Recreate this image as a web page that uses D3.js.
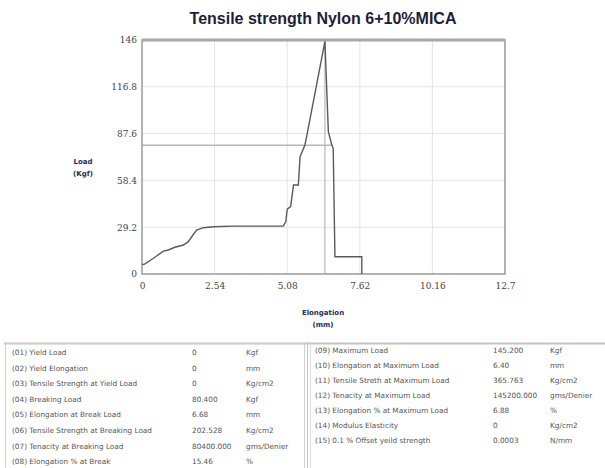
<!DOCTYPE html>
<html><head><meta charset="utf-8">
<script src="https://cdn.jsdelivr.net/npm/d3@7"></script>
<style>body{margin:0;background:#fff}svg{display:block}</style>
</head><body>
<script>
const title = "Tensile strength Nylon 6+10%MICA";
const elongation = [0, 0.08, 0.40, 0.75, 0.92, 1.15, 1.45, 1.62, 1.80, 1.91, 2.15, 2.50, 3.19, 4.94, 5.03, 5.08, 5.20, 5.30, 5.47, 5.53, 5.70, 5.77, 6.40, 6.52, 6.64, 6.69, 6.75, 7.69, 7.69];
const load =       [6.0, 6.0, 9.8, 14.3, 15.0, 16.7, 18.1, 20.2, 24.8, 27.4, 28.9, 29.5, 29.9, 29.9, 32.6, 40.5, 42.0, 55.5, 55.5, 73.2, 80.5, 86.7, 145.2, 88.8, 80.5, 78.4, 10.8, 10.8, 0];
const yTicks = [0, 29.2, 58.4, 87.6, 116.8, 146];
const yTickLabels = ["0", "29.2", "58.4", "87.6", "116.8", "146"];
const xTicks = [0, 2.54, 5.08, 7.62, 10.16, 12.7];
const xTickLabels = ["0", "2.54", "5.08", "7.62", "10.16", "12.7"];
const breakingLoad = 80.4, breakElong = 6.68, maxElong = 6.40;
const leftLabels = ["(01) Yield Load","(02) Yield Elongation","(03) Tensile Strength at Yield Load","(04) Breaking Load","(05) Elongation at Break Load","(06) Tensile Strength at Breaking Load","(07) Tenacity at Breaking Load","(08) Elongation % at Break"];
const leftValues = ["0","0","0","80.400","6.68","202.528","80400.000","15.46"];
const leftUnits = ["Kgf","mm","Kg/cm2","Kgf","mm","Kg/cm2","gms/Denier","%"];
const rightLabels = ["(09) Maximum Load","(10) Elongation at Maximum Load","(11) Tensile Streth at Maximum Load","(12) Tenacity at Maximum Load","(13) Elongation % at Maximum Load","(14) Modulus Elasticity","(15) 0.1 % Offset yeild strength"];
const rightValues = ["145.200","6.40","365.763","145200.000","6.88","0","0.0003"];
const rightUnits = ["Kgf","mm","Kg/cm2","gms/Denier","%","Kg/cm2","N/mm"];

const W = 605, H = 468;
const svg = d3.select("body").append("svg").attr("width", W).attr("height", H);
const x = d3.scaleLinear().domain([0, 12.7]).range([142, 505]);
const y = d3.scaleLinear().domain([0, 146]).range([274, 40]);

svg.append("text").attr("x", 323).attr("y", 24).attr("text-anchor", "middle")
  .attr("font-family", "Liberation Sans, Arial, sans-serif").attr("font-weight", "bold")
  .attr("font-size", 16).attr("fill", "#1e1e38").text(title);

// grid
const g = svg.append("g");
g.selectAll(".vg").data(xTicks.slice(1, -1)).join("line")
  .attr("x1", d => x(d)).attr("x2", d => x(d)).attr("y1", y(146)).attr("y2", y(0))
  .attr("stroke", "#e4e4e4").attr("stroke-width", 1);
g.selectAll(".hg").data(yTicks.slice(1, -1)).join("line")
  .attr("x1", x(0)).attr("x2", x(12.7)).attr("y1", d => y(d)).attr("y2", d => y(d))
  .attr("stroke", "#e4e4e4").attr("stroke-width", 1);

// reference lines
g.append("line").attr("x1", x(0)).attr("x2", x(breakElong)).attr("y1", y(breakingLoad)).attr("y2", y(breakingLoad))
  .attr("stroke", "#b8b8b8").attr("stroke-width", 1.5);
g.append("line").attr("x1", x(maxElong)).attr("x2", x(maxElong)).attr("y1", y(146)).attr("y2", y(0))
  .attr("stroke", "#b8b8b8").attr("stroke-width", 1.2);

// border
g.append("rect").attr("x", x(0)).attr("y", y(146)).attr("width", x(12.7) - x(0)).attr("height", y(0) - y(146))
  .attr("fill", "none").attr("stroke", "#9a9a9a").attr("stroke-width", 1.5);
g.append("line").attr("x1", x(0)).attr("x2", x(12.7)).attr("y1", y(146)).attr("y2", y(146))
  .attr("stroke", "#a8a8a8").attr("stroke-width", 3);

// curve
const line = d3.line().x((d, i) => x(elongation[i])).y((d, i) => y(load[i]));
g.append("path").attr("d", line(load)).attr("fill", "none").attr("stroke", "#5a5a5a").attr("stroke-width", 1.4);

// axes
const yAxis = d3.axisLeft(y).tickValues(yTicks).tickFormat((d, i) => yTickLabels[i]).tickSize(0).tickPadding(5);
const ya = svg.append("g").attr("transform", `translate(${x(0)},0)`).call(yAxis);
ya.select(".domain").remove();
ya.selectAll("text").attr("font-family", "DejaVu Serif, serif").attr("font-size", 9).attr("fill", "#444");

const xAxis = d3.axisBottom(x).tickValues(xTicks).tickFormat((d, i) => xTickLabels[i]).tickSize(0).tickPadding(9);
const xa = svg.append("g").attr("transform", `translate(0,${y(0)})`).call(xAxis);
xa.select(".domain").remove();
xa.selectAll("text").attr("font-family", "DejaVu Serif, serif").attr("font-size", 9).attr("fill", "#444");

const lab = { "font-family": "DejaVu Sans, sans-serif", "font-weight": "bold", "font-size": 7, "fill": "#2a2a55" };
function t(xp, yp, s) {
  const e = svg.append("text").attr("x", xp).attr("y", yp).attr("text-anchor", "middle").text(s);
  for (const k in lab) e.attr(k, lab[k]);
}
t(83, 164, "Load"); t(83, 176, "(Kgf)");
t(323, 315, "Elongation"); t(323, 327, "(mm)");

// tables
const tb = svg.append("g");
tb.append("line").attr("x1", 4).attr("x2", 605).attr("y1", 343.5).attr("y2", 343.5).attr("stroke", "#c4c4c4").attr("stroke-width", 2);
tb.append("rect").attr("x", 5.5).attr("y", 343.5).attr("width", 299).attr("height", 130).attr("fill", "none").attr("stroke", "#cfcfcf");
tb.append("line").attr("x1", 307.5).attr("x2", 307.5).attr("y1", 343).attr("y2", 468).attr("stroke", "#c4c4c4").attr("stroke-width", 1);
tb.append("line").attr("x1", 310.5).attr("x2", 310.5).attr("y1", 343).attr("y2", 468).attr("stroke", "#dcdcdc").attr("stroke-width", 1);
const fs = { "font-family": "DejaVu Sans, sans-serif", "font-size": 7.3, "fill": "#555" };
function cell(xp, yp, s) {
  const e = tb.append("text").attr("x", xp).attr("y", yp).attr("dominant-baseline", "middle").text(s);
  for (const k in fs) e.attr(k, fs[k]);
}
leftLabels.forEach((s, i) => {
  const yy = 353 + i * 15.6;
  cell(12, yy, s); cell(192, yy, leftValues[i]); cell(246, yy, leftUnits[i]);
});
rightLabels.forEach((s, i) => {
  const yy = 351 + i * 15;
  cell(315, yy, s); cell(493, yy, rightValues[i]); cell(550, yy, rightUnits[i]);
});
</script>
</body></html>
